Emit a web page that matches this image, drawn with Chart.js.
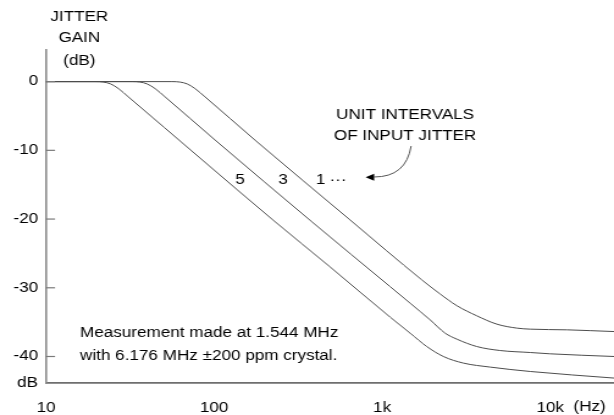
<!DOCTYPE html>
<html>
<head>
  <title>Jitter gain</title>
  <script src="https://cdn.jsdelivr.net/npm/chart.js"></script>
  <style>
    body {
      margin: 0;
      padding: 0;
      background-color: #fff;
    }
    #jitterChart {
      display: block;
    }
  </style>
</head>
<body>
  <!-- the original figure is stretched sideways, so the canvas is too -->
  <canvas id="jitterChart" width="503" height="415" style="width: 614px; height: 415px;"></canvas>
  <script>
    // axes
    const freqTicks = [10, 100, 1000, 10000];
    const freqTickLabels = ['10', '100', '1k', '10k'];
    const gainTicks = [0, -10, -20, -30, -40];
    const gainTickLabels = ['0', '-10', '-20', '-30', '-40'];

    // 1 UI of input jitter
    const ui1Freq = [10, 56.2, 62.8, 69.1, 77.1, 88.4, 175, 645, 1723, 2214, 2783, 3662, 4815, 6337, 7603, 12620, 24000];
    const ui1Gain = [0, 0, -0.07, -0.33, -1.02, -2.22, -8.5, -20.13, -28.85, -30.9, -32.6, -34.08, -35.29, -35.87, -36.02, -36.12, -36.37];

    // 3 UI
    const ui3Freq = [10, 32.5, 36.3, 39.9, 44.6, 51.1, 101.4, 383, 1116, 1468, 1931, 2371, 2783, 3662, 5040, 7603, 10000, 24000];
    const ui3Gain = [0, 0, -0.07, -0.33, -1.02, -2.22, -8.5, -20.42, -29.83, -32.24, -34.67, -36.6, -37.47, -38.55, -39.13, -39.42, -39.61, -40.0];

    // 5 UI
    const ui5Freq = [10, 19.7, 22.0, 24.2, 27.0, 30.9, 82.5, 224, 490, 1116, 1468, 1845, 2317, 3048, 4394, 7603, 24000];
    const ui5Gain = [0, 0, -0.07, -0.33, -1.02, -2.22, -11.12, -20.13, -26.96, -34.27, -36.6, -38.55, -40.0, -40.96, -41.54, -42.18, -43.14];

    const fontFamily = '"Liberation Sans", Arial, sans-serif';

    function toPoints(xs, ys) {
      return xs.map((x, i) => ({ x: x, y: ys[i] }));
    }

    function curve(label, xs, ys) {
      return {
        label: label,
        data: toPoints(xs, ys),
        borderColor: '#4d4d4d',
        borderWidth: 1,
        pointRadius: 0,
        fill: false,
        cubicInterpolationMode: 'monotone'
      };
    }

    // text, arrow and the inner tick marks
    const annotations = {
      id: 'annotations',
      afterDraw(chart) {
        const { ctx, chartArea, scales } = chart;
        const x = scales.x, y = scales.y;
        const at = (f, g) => [x.getPixelForValue(f), y.getPixelForValue(g)];

        ctx.save();
        ctx.strokeStyle = '#7a7a7a';
        ctx.lineWidth = 1.2;
        gainTicks.forEach(v => {
          const py = y.getPixelForValue(v);
          ctx.beginPath();
          ctx.moveTo(chartArea.left, py);
          ctx.lineTo(chartArea.left + 7.4, py);
          ctx.stroke();
        });

        ctx.fillStyle = '#000';
        ctx.font = '14px ' + fontFamily;
        ctx.textBaseline = 'middle';
        ctx.textAlign = 'center';
        ctx.fillText('JITTER', 65, 17);
        ctx.fillText('GAIN', 65, 38);
        ctx.fillText('(dB)', 65, 61);
        ctx.fillText('(Hz)', 483, 407);
        ctx.textAlign = 'right';
        ctx.fillText('dB', chartArea.left - 6.5, chartArea.bottom);

        ctx.textAlign = 'center';
        let p = at(142.8, -14.32); ctx.fillText('5', p[0], p[1]);
        p = at(257.5, -14.32); ctx.fillText('3', p[0], p[1]);
        p = at(431.5, -14.32); ctx.fillText('1', p[0], p[1]);
        p = at(547, -14.32); ctx.fillText('\u00b7\u00b7\u00b7', p[0], p[1]);
        p = at(1371, -4.94); ctx.fillText('UNIT INTERVALS', p[0], p[1]);
        p = at(1371, -7.92); ctx.fillText('OF INPUT JITTER', p[0], p[1]);

        ctx.textAlign = 'left';
        p = at(15.94, -36.55); ctx.fillText('Measurement made at 1.544 MHz', p[0], p[1]);
        p = at(15.94, -39.9); ctx.fillText('with 6.176 MHz \u00b1200 ppm crystal.', p[0], p[1]);

        // curved arrow pointing at the curves
        const a0 = at(1488, -9.375), a1 = at(1389, -13.88), a2 = at(896, -13.88), tip = at(798, -13.9);
        ctx.strokeStyle = '#555';
        ctx.lineWidth = 1;
        ctx.beginPath();
        ctx.moveTo(a0[0], a0[1]);
        ctx.quadraticCurveTo(a1[0], a1[1], a2[0], a2[1]);
        ctx.stroke();
        ctx.beginPath();
        ctx.moveTo(tip[0], tip[1]);
        ctx.lineTo(tip[0] + 7, tip[1] - 3.5);
        ctx.lineTo(tip[0] + 7, tip[1] + 3.5);
        ctx.closePath();
        ctx.fill();
        ctx.restore();
      }
    };

    const ctx = document.getElementById('jitterChart').getContext('2d');
    new Chart(ctx, {
      type: 'line',
      data: {
        datasets: [
          curve('1', ui1Freq, ui1Gain),
          curve('3', ui3Freq, ui3Gain),
          curve('5', ui5Freq, ui5Gain)
        ]
      },
      options: {
        responsive: false,
        animation: false,
        layout: { padding: { top: 50, left: 0, right: 0, bottom: 0 } },
        plugins: {
          legend: { display: false },
          tooltip: { enabled: false }
        },
        scales: {
          x: {
            type: 'logarithmic',
            min: 10,
            max: 24000,
            afterBuildTicks: s => { s.ticks = freqTicks.map(v => ({ value: v })); },
            afterFit: s => { s.height = 31.7; },
            grid: { display: false, drawTicks: false },
            border: { display: true, color: '#6e6e6e', width: 1.8 },
            ticks: {
              font: { family: fontFamily, size: 14 },
              color: '#000',
              padding: 16,
              maxRotation: 0,
              autoSkip: false,
              callback: v => freqTickLabels[freqTicks.indexOf(v)]
            }
          },
          y: {
            min: -43.9,
            max: 4.6,
            afterBuildTicks: s => { s.ticks = gainTicks.map(v => ({ value: v })); },
            afterFit: s => { s.width = 37.7; },
            grid: { display: false, drawTicks: false },
            border: { display: true, color: '#8c8c8c', width: 1.6 },
            ticks: {
              font: { family: fontFamily, size: 14 },
              color: '#000',
              padding: 6.5,
              callback: v => gainTickLabels[gainTicks.indexOf(v)]
            }
          }
        }
      },
      plugins: [annotations]
    });
  </script>
</body>
</html>
